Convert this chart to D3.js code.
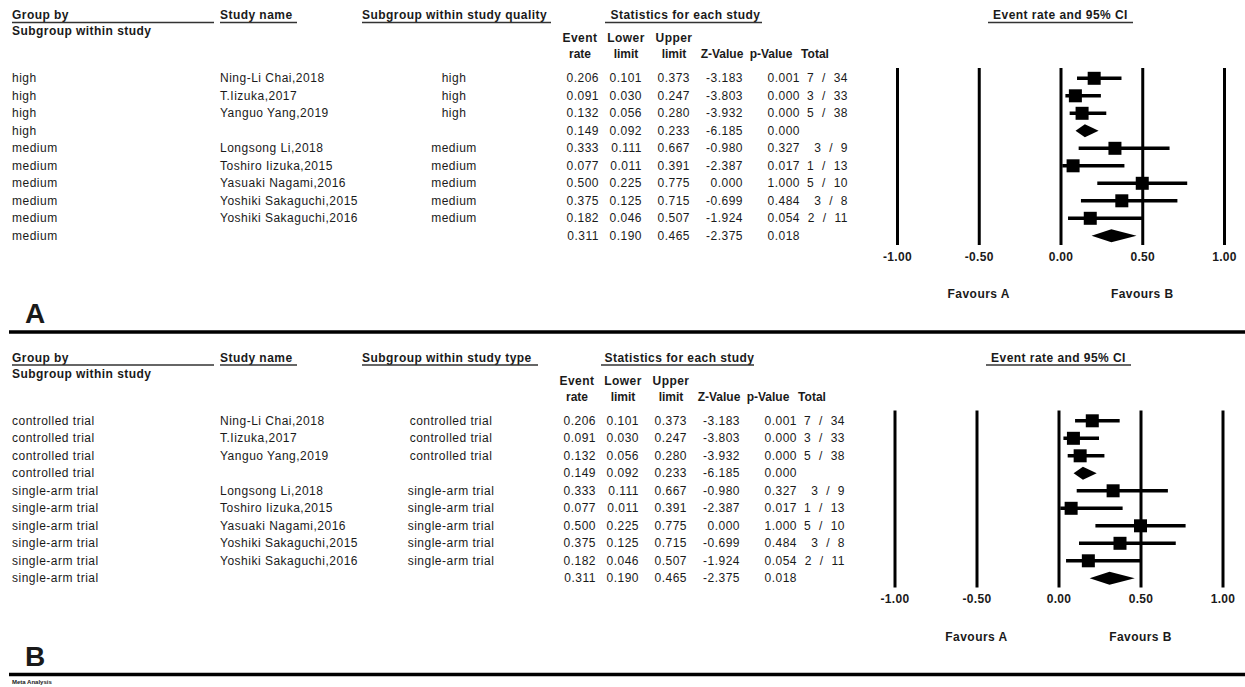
<!DOCTYPE html>
<html>
<head>
<meta charset="utf-8">
<script src="https://cdn.jsdelivr.net/npm/d3@7"></script>
<style>
  body { margin: 0; background: #fff; }
  svg text { font-family: "Liberation Sans", Arial, sans-serif; fill: #1a1a1a; }
</style>
</head>
<body>
<svg id="chart" width="1245" height="687"></svg>
<script>
// ---- data ----
const studyNames = ["Ning-Li Chai,2018", "T.Iizuka,2017", "Yanguo Yang,2019", "",
  "Longsong Li,2018", "Toshiro Iizuka,2015", "Yasuaki Nagami,2016",
  "Yoshiki Sakaguchi,2015", "Yoshiki Sakaguchi,2016", ""];
const qualityGroups = ["high", "high", "high", "high", "medium", "medium", "medium", "medium", "medium", "medium"];
const typeGroups = ["controlled trial", "controlled trial", "controlled trial", "controlled trial",
  "single-arm trial", "single-arm trial", "single-arm trial", "single-arm trial", "single-arm trial", "single-arm trial"];
const isSummary = [false, false, false, true, false, false, false, false, false, true];
const eventRate = [0.206, 0.091, 0.132, 0.149, 0.333, 0.077, 0.500, 0.375, 0.182, 0.311];
const lowerLimit = [0.101, 0.030, 0.056, 0.092, 0.111, 0.011, 0.225, 0.125, 0.046, 0.190];
const upperLimit = [0.373, 0.247, 0.280, 0.233, 0.667, 0.391, 0.775, 0.715, 0.507, 0.465];
const zValue = [-3.183, -3.803, -3.932, -6.185, -0.980, -2.387, 0.000, -0.699, -1.924, -2.375];
const pValue = [0.001, 0.000, 0.000, 0.000, 0.327, 0.017, 1.000, 0.484, 0.054, 0.018];
const eventCount = [7, 3, 5, null, 3, 1, 5, 3, 2, null];
const totalCount = [34, 33, 38, null, 9, 13, 10, 8, 11, null];
const axisTicks = [-1.00, -0.50, 0.00, 0.50, 1.00];

const rows = studyNames.map((name, i) => ({
  name, summary: isSummary[i], rate: eventRate[i], lo: lowerLimit[i], hi: upperLimit[i],
  z: zValue[i], p: pValue[i], ev: eventCount[i], n: totalCount[i],
  quality: qualityGroups[i], type: typeGroups[i]
}));

const svg = d3.select("#chart");
const fmt3 = v => v.toFixed(3);

const panels = [
  { top: 0, letter: "A", subHeader: "Subgroup within study quality", key: "quality",
    subUnderline: [362, 551], statsUnderline: [605, 762], xRange: [897, 1224], dx: 0 },
  { top: 342.5, letter: "B", subHeader: "Subgroup within study type", key: "type",
    subUnderline: [362, 538], statsUnderline: [601, 754], xRange: [894.5, 1222.5], dx: -3 }
];

function drawPanel(cfg) {
  const g = svg.append("g").attr("transform", `translate(0,${cfg.top})`);
  const x = d3.scaleLinear().domain([-1, 1]).range(cfg.xRange);
  const rowY = d3.scaleLinear().domain([0, 1]).range([78.3, 95.8]);
  const dx = cfg.dx;

  const bold = sel => sel.attr("font-weight", "bold").attr("font-size", 12).style("letter-spacing", "0.45px").attr("fill", "#111");
  const plain = sel => sel.attr("font-size", 12).style("letter-spacing", "0.5px");

  // column headings with underlines
  const heads = [
    { t: "Group by", x: 12, anchor: "start", u: [12, 214] },
    { t: "Study name", x: 220, anchor: "start", u: [220, 297] },
    { t: cfg.subHeader, x: cfg.subUnderline[0], anchor: "start", u: cfg.subUnderline },
    { t: "Statistics for each study", x: (cfg.statsUnderline[0] + cfg.statsUnderline[1]) / 2 + 2, anchor: "middle", u: cfg.statsUnderline },
    { t: "Event rate and 95% CI", x: x(0), anchor: "middle", u: [x(0) - 72.5, x(0) + 72.5] }
  ];
  heads.forEach(h => {
    g.append("text").attr("x", h.x).attr("y", 15).attr("dominant-baseline", "central")
      .attr("text-anchor", h.anchor).text(h.t).call(bold);
    g.append("line").attr("x1", h.u[0]).attr("x2", h.u[1]).attr("y1", 22.5).attr("y2", 22.5)
      .attr("stroke", "#333").attr("stroke-width", 1.4);
  });
  g.append("text").attr("x", 12).attr("y", 31).attr("dominant-baseline", "central")
    .text("Subgroup within study").call(bold);

  // statistic sub-headings
  const statCols = [
    { top: "Event", bot: "rate", cx: 580 },
    { top: "Lower", bot: "limit", cx: 626 },
    { top: "Upper", bot: "limit", cx: 674 },
    { top: "", bot: "Z-Value", cx: 722 },
    { top: "", bot: "p-Value", cx: 771 },
    { top: "", bot: "Total", cx: 815 }
  ];
  statCols.forEach(c => {
    if (c.top) g.append("text").attr("x", c.cx + dx).attr("y", 38).attr("dominant-baseline", "central")
      .attr("text-anchor", "middle").text(c.top).call(bold);
    g.append("text").attr("x", c.cx + dx).attr("y", 54).attr("dominant-baseline", "central")
      .attr("text-anchor", "middle").text(c.bot).call(bold).style("letter-spacing", "0px");
  });

  // table rows
  const r = g.selectAll("g.row").data(rows).join("g").attr("class", "row")
    .attr("transform", (d, i) => `translate(0,${rowY(i)})`);
  const cell = (sel, xPos, anchor, fn) => sel.append("text").attr("x", xPos).attr("y", 0)
    .attr("dominant-baseline", "central").attr("text-anchor", anchor).text(fn).call(plain);

  cell(r, 12, "start", d => d[cfg.key]);
  cell(r, 220, "start", d => d.name);
  cell(r, 454 + dx, "middle", d => d.summary ? "" : d[cfg.key]);
  cell(r, 599 + dx, "end", d => fmt3(d.rate));
  cell(r, 642 + dx, "end", d => fmt3(d.lo));
  cell(r, 690 + dx, "end", d => fmt3(d.hi));
  cell(r, 743 + dx, "end", d => fmt3(d.z));
  cell(r, 800 + dx, "end", d => fmt3(d.p));
  cell(r, 848 + dx, "end", d => d.ev == null ? "" : `${d.ev} / ${d.n}`).style("word-spacing", "4px");

  // forest plot: reference lines via axis ticks
  const lineTop = 68, lineBottom = 245;
  const axis = d3.axisBottom(x).tickValues(axisTicks).tickFormat(d => d.toFixed(2))
    .tickSizeInner(-(lineBottom - lineTop)).tickSizeOuter(0).tickPadding(7);
  const ax = g.append("g").attr("transform", `translate(0,${lineBottom})`).call(axis);
  ax.select(".domain").remove();
  ax.selectAll(".tick line").attr("stroke", "#000").attr("stroke-width", 3);
  ax.selectAll(".tick text").attr("font-size", 12).attr("font-weight", "bold")
    .style("letter-spacing", "0.3px").attr("fill", "#111")
    .style("font-family", "'Liberation Sans', Arial, sans-serif");

  // confidence intervals and point estimates
  const studies = rows.map((d, i) => ({ ...d, i })).filter(d => !d.summary);
  const sums = rows.map((d, i) => ({ ...d, i })).filter(d => d.summary);
  g.selectAll("line.ci").data(studies).join("line").attr("class", "ci")
    .attr("x1", d => x(d.lo)).attr("x2", d => x(d.hi))
    .attr("y1", d => rowY(d.i)).attr("y2", d => rowY(d.i))
    .attr("stroke", "#000").attr("stroke-width", 3.5);
  const sq = 13;
  g.selectAll("rect.pt").data(studies).join("rect").attr("class", "pt")
    .attr("x", d => x(d.rate) - sq / 2).attr("y", d => rowY(d.i) - sq / 2)
    .attr("width", sq).attr("height", sq).attr("fill", "#000");
  g.selectAll("path.dia").data(sums).join("path").attr("class", "dia")
    .attr("d", d => {
      const y = rowY(d.i), h = 6.5;
      return `M${x(d.lo)},${y}L${x(d.rate)},${y - h}L${x(d.hi)},${y}L${x(d.rate)},${y + h}Z`;
    }).attr("fill", "#000");

  // favours labels
  [["Favours A", -0.5], ["Favours B", 0.5]].forEach(([t, v]) => {
    g.append("text").attr("x", x(v)).attr("y", 294).attr("dominant-baseline", "central")
      .attr("text-anchor", "middle").text(t).call(bold);
  });

  // panel letter and separator
  g.append("text").attr("x", 25).attr("y", 323).attr("font-size", 28).attr("font-weight", "bold")
    .attr("fill", "#000").text(cfg.letter);
  g.append("line").attr("x1", 9).attr("x2", 1245).attr("y1", 332).attr("y2", 332)
    .attr("stroke", "#000").attr("stroke-width", 3.5);
}

panels.forEach(drawPanel);

svg.append("text").attr("x", 12).attr("y", 684).attr("font-size", 6).attr("font-weight", "bold")
  .attr("fill", "#222").text("Meta Analysis");
</script>
</body>
</html>
